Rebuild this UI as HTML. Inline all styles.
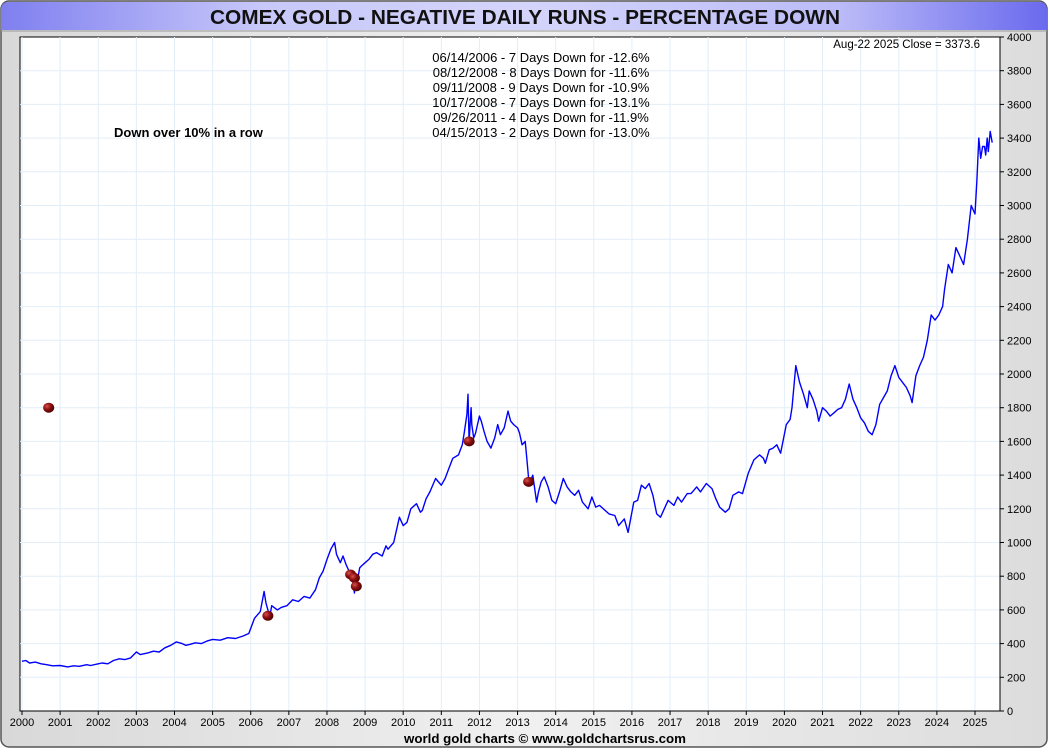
<!DOCTYPE html>
<html><head><meta charset="utf-8"><style>
body{margin:0;width:1050px;height:750px;overflow:hidden;background:#fff;font-family:"Liberation Sans",sans-serif}
</style></head><body>
<svg id="c" width="1050" height="750" xmlns="http://www.w3.org/2000/svg">
<defs>
<linearGradient id="tg" x1="0" x2="1" y1="0" y2="0"><stop offset="0" stop-color="#7f7ff0"/><stop offset="0.25" stop-color="#c8c8fa"/><stop offset="0.5" stop-color="#d4d4fb"/><stop offset="0.8" stop-color="#bcbcf8"/><stop offset="1" stop-color="#6a6aee"/></linearGradient>
<linearGradient id="bg" x1="0" x2="1"><stop offset="0" stop-color="#d8d8d8"/><stop offset="0.5" stop-color="#f0f0f0"/><stop offset="1" stop-color="#dcdcdc"/></linearGradient>
<radialGradient id="mk" cx="0.35" cy="0.35" r="0.7"><stop offset="0" stop-color="#d85050"/><stop offset="0.5" stop-color="#8a0e0e"/><stop offset="1" stop-color="#4a0000"/></radialGradient>
</defs>
<rect x="1" y="1" width="1046" height="746" rx="8" fill="url(#bg)" stroke="#555" stroke-width="1.5"/>
<path d="M1,30 L1,10 Q1,2 9,2 L1039,2 Q1047,2 1047,10 L1047,30 Z" fill="url(#tg)"/>
<line x1="1" y1="31" x2="1047" y2="31" stroke="#999"/>
<text x="525" y="24" text-anchor="middle" font-size="20" font-weight="bold" fill="#111" textLength="630" lengthAdjust="spacingAndGlyphs">COMEX GOLD - NEGATIVE DAILY RUNS - PERCENTAGE DOWN</text>
<rect x="20" y="37" width="980" height="674" fill="#fff" stroke="#000" stroke-width="1"/>
<g id="grid"></g><g id="axes"></g><g id="series"></g><g id="marks"></g>
<text x="980" y="48" text-anchor="end" font-size="11.5" fill="#000">Aug-22  2025   Close = 3373.6</text>
<g font-size="13" fill="#000" text-anchor="middle">
<text x="541" y="62">06/14/2006 - 7 Days Down for -12.6%</text>
<text x="541" y="77">08/12/2008 - 8 Days Down for -11.6%</text>
<text x="541" y="92">09/11/2008 - 9 Days Down for -10.9%</text>
<text x="541" y="107">10/17/2008 - 7 Days Down for -13.1%</text>
<text x="541" y="122">09/26/2011 - 4 Days Down for -11.9%</text>
<text x="541" y="137">04/15/2013 - 2 Days Down for -13.0%</text>
</g>
<text x="114" y="137" font-size="13" font-weight="bold" fill="#000">Down over 10% in a row</text>
<text x="545" y="743" text-anchor="middle" font-size="13.3" font-weight="bold" fill="#000">world gold charts © www.goldchartsrus.com</text>
</svg>
<script>
const yTicks=[0,200,400,600,800,1000,1200,1400,1600,1800,2000,2200,2400,2600,2800,3000,3200,3400,3600,3800,4000];
const xYears=[2000,2001,2002,2003,2004,2005,2006,2007,2008,2009,2010,2011,2012,2013,2014,2015,2016,2017,2018,2019,2020,2021,2022,2023,2024,2025];
const priceT=[2000,2000.1,2000.2,2000.35,2000.5,2000.65,2000.8,2001.0,2001.2,2001.35,2001.5,2001.7,2001.8,2002.0,2002.1,2002.25,2002.4,2002.55,2002.7,2002.85,2003.0,2003.1,2003.3,2003.45,2003.6,2003.75,2003.9,2004.05,2004.2,2004.3,2004.4,2004.55,2004.7,2004.85,2005.0,2005.2,2005.4,2005.6,2005.8,2005.95,2006.1,2006.25,2006.35,2006.4,2006.45,2006.5,2006.55,2006.7,2006.8,2006.95,2007.1,2007.25,2007.4,2007.55,2007.7,2007.8,2007.9,2008.0,2008.1,2008.2,2008.25,2008.35,2008.42,2008.5,2008.56,2008.62,2008.68,2008.72,2008.75,2008.78,2008.82,2008.86,2008.9,2009.0,2009.1,2009.2,2009.3,2009.45,2009.55,2009.6,2009.75,2009.9,2010.0,2010.1,2010.2,2010.35,2010.45,2010.5,2010.6,2010.7,2010.85,2011.0,2011.1,2011.2,2011.3,2011.45,2011.55,2011.6,2011.67,2011.7,2011.73,2011.78,2011.8,2011.85,2011.9,2012.0,2012.05,2012.12,2012.2,2012.3,2012.4,2012.48,2012.55,2012.65,2012.75,2012.82,2012.9,2013.0,2013.05,2013.12,2013.2,2013.25,2013.29,2013.33,2013.4,2013.45,2013.5,2013.55,2013.62,2013.7,2013.8,2013.9,2014.0,2014.1,2014.2,2014.3,2014.4,2014.5,2014.6,2014.7,2014.85,2014.95,2015.05,2015.15,2015.3,2015.4,2015.55,2015.65,2015.8,2015.9,2015.95,2016.05,2016.15,2016.25,2016.35,2016.45,2016.55,2016.65,2016.75,2016.85,2016.95,2017.1,2017.2,2017.3,2017.45,2017.55,2017.7,2017.8,2017.95,2018.1,2018.2,2018.3,2018.45,2018.55,2018.65,2018.8,2018.9,2019.05,2019.2,2019.35,2019.45,2019.5,2019.6,2019.7,2019.8,2019.9,2020.05,2020.15,2020.2,2020.3,2020.4,2020.5,2020.6,2020.65,2020.75,2020.85,2020.9,2021.0,2021.1,2021.2,2021.3,2021.4,2021.5,2021.6,2021.7,2021.8,2021.9,2022.0,2022.1,2022.2,2022.3,2022.4,2022.5,2022.6,2022.7,2022.8,2022.9,2023.0,2023.1,2023.2,2023.3,2023.35,2023.45,2023.55,2023.65,2023.75,2023.85,2023.95,2024.05,2024.15,2024.2,2024.3,2024.4,2024.5,2024.6,2024.7,2024.8,2024.85,2024.9,2025.0,2025.05,2025.1,2025.15,2025.2,2025.25,2025.28,2025.32,2025.35,2025.4,2025.45,2025.5,2025.55,2025.6,2025.64];
const priceV=[295,300,285,290,280,275,268,270,262,268,265,275,270,280,285,280,300,310,305,315,350,335,345,355,350,375,390,410,400,390,395,405,400,415,425,420,435,430,445,460,550,590,710,640,600,560,625,600,615,625,660,650,680,670,720,790,830,900,960,1000,930,880,920,870,840,800,770,700,760,740,800,850,860,880,900,930,940,920,980,960,1000,1150,1100,1120,1200,1230,1180,1190,1260,1300,1380,1340,1380,1440,1500,1520,1580,1650,1760,1880,1600,1800,1700,1620,1650,1750,1720,1660,1600,1560,1620,1700,1640,1680,1780,1720,1700,1680,1650,1580,1600,1480,1380,1360,1400,1320,1240,1300,1360,1390,1330,1250,1230,1300,1380,1330,1300,1280,1310,1240,1200,1270,1210,1220,1190,1170,1160,1100,1140,1060,1120,1240,1250,1340,1320,1350,1280,1170,1150,1200,1250,1220,1270,1240,1290,1290,1330,1300,1350,1320,1260,1210,1180,1200,1280,1300,1290,1410,1490,1520,1500,1470,1550,1560,1580,1530,1700,1730,1800,2050,1950,1880,1800,1900,1850,1780,1720,1800,1780,1750,1770,1790,1800,1850,1940,1850,1800,1740,1710,1660,1640,1700,1820,1860,1900,1990,2050,1980,1950,1920,1870,1830,1990,2050,2100,2200,2350,2320,2350,2400,2500,2650,2600,2750,2700,2650,2800,2900,3000,2950,3150,3400,3280,3350,3350,3300,3400,3320,3440,3373];
const runT=[2000.7,2006.45,2008.62,2008.72,2008.77,2011.73,2013.29];
const runV=[1800,565,810,790,740,1600,1360];
const NS='http://www.w3.org/2000/svg';
const X0=22,YW=38.12,PB=711,PT=37,VMAX=4000;
function xs(t){return X0+(t-2000)*YW;}
function ys(v){return PB-(v/VMAX)*(PB-PT);}
function mk(tag,attrs,parent){const e=document.createElementNS(NS,tag);for(const k in attrs)e.setAttribute(k,attrs[k]);parent.appendChild(e);return e;}
const grid=document.getElementById('grid'),axes=document.getElementById('axes');
yTicks.forEach(v=>{
 if(v>0&&v<VMAX){const l=mk('line',{x1:20,x2:1000,y1:ys(v),y2:ys(v),stroke:'#e2eef8'},grid);
 
 }
 mk('line',{x1:1000,x2:1004,y1:ys(v),y2:ys(v),stroke:'#000'},axes);
 const t=mk('text',{x:1007,y:ys(v)+4,'font-size':11,fill:'#000'},axes);t.textContent=v;
 
 
});
xYears.forEach(y=>{
 const x=xs(y);
 const l=mk('line',{x1:x,x2:x,y1:37,y2:711,stroke:'#e2eef8'},grid);
 
 
 mk('line',{x1:x,x2:x,y1:711,y2:715,stroke:'#000'},axes);
 const t=mk('text',{x:x,y:726,'font-size':11,'text-anchor':'middle',fill:'#000'},axes);t.textContent=y;
 
 
});
mk('line',{x1:20,x2:1000,y1:711,y2:711,stroke:'#000'},axes);
mk('line',{x1:1000,x2:1000,y1:37,y2:711,stroke:'#000'},axes);
let d='';priceT.forEach((t,i)=>{d+=(i?'L':'M')+xs(t).toFixed(1)+','+ys(priceV[i]).toFixed(1);});
const p=mk('path',{d:d,fill:'none',stroke:'#0000ff','stroke-width':1.4,'stroke-linejoin':'round'},document.getElementById('series'));


runT.forEach((t,i)=>{
 const c=mk('ellipse',{cx:xs(t),cy:ys(runV[i]),rx:5.5,ry:5,fill:'url(#mk)'},document.getElementById('marks'));
 
 
});
</script>
</body></html>
